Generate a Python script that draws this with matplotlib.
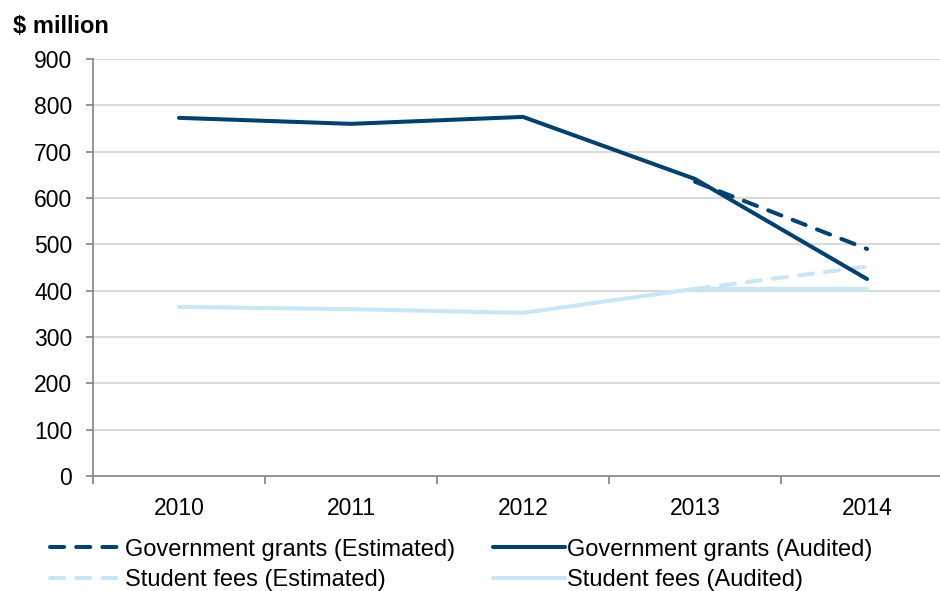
import matplotlib
matplotlib.use("Agg")
from matplotlib import pyplot as plt

plt.rcParams["font.family"] = ["Liberation Sans", "DejaVu Sans"]

# yearly revenue, $ million
years = ["2010", "2011", "2012", "2013", "2014"]
grants_audited = [773, 760, 775, 641, 425]
fees_audited = [365, 360, 352, 404, 404]
# estimates only exist for the last two years
est_years = ["2013", "2014"]
grants_estimated = [635, 490]
fees_estimated = [404, 452]

dark_blue = "#00416f"
light_blue = "#c8e6f6"

fig = plt.figure(figsize=(9.4, 5.91), dpi=100)
ax = fig.add_axes([0.0989, 0.1946, 0.915, 0.7056])

x = list(range(len(years)))
x_est = [years.index(y) for y in est_years]

fees_aud_line, = ax.plot(x, fees_audited, color=light_blue, lw=2.9, solid_capstyle="round", zorder=3)
fees_est_line, = ax.plot(x_est, fees_estimated, color=light_blue, lw=2.9, dashes=(3.5, 3),
                         dash_capstyle="round", zorder=3)
grants_aud_line, = ax.plot(x, grants_audited, color=dark_blue, lw=2.9, solid_capstyle="round", zorder=4)
grants_est_line, = ax.plot(x_est, grants_estimated, color=dark_blue, lw=2.9, dashes=(3.5, 3),
                           dash_capstyle="round", zorder=4)

# axes, ticks and grid
ax.set_xlim(-0.5, len(years) - 0.5)
ax.set_ylim(0, 900)
ax.set_yticks(range(0, 901, 100))
ax.set_xticks(x)
ax.set_xticklabels(years)
ax.set_xticks([i - 0.5 for i in range(len(years) + 1)], minor=True)
ax.tick_params(axis="x", which="major", length=0, pad=15, labelsize=16.5)
ax.tick_params(axis="x", which="minor", length=6, width=1.3, color="#8c8c8c")
ax.tick_params(axis="y", length=5, width=1.3, color="#8c8c8c", pad=10, labelsize=16.5)
ax.grid(axis="y", color="#d9d9d9", lw=1.5)
ax.set_axisbelow(True)
for side in ["top", "right"]:
    ax.spines[side].set_visible(False)
for side in ["left", "bottom"]:
    ax.spines[side].set_color("#8c8c8c")
    ax.spines[side].set_linewidth(1.3)

fig.text(0.0138, 0.956, "$ million", fontsize=17, fontweight="bold", va="center", ha="left")

# legend fills column by column
fig.legend([grants_est_line, fees_est_line, grants_aud_line, fees_aud_line],
           ["Government grants (Estimated)", "Student fees (Estimated)",
            "Government grants (Audited)", "Student fees (Audited)"],
           ncol=2, loc="lower left", bbox_to_anchor=(0.031, -0.036), frameon=False,
           fontsize=17, handlelength=3.05, handletextpad=0.1, columnspacing=1.6,
           labelspacing=0.35)

fig.savefig("out.png", dpi=100)
